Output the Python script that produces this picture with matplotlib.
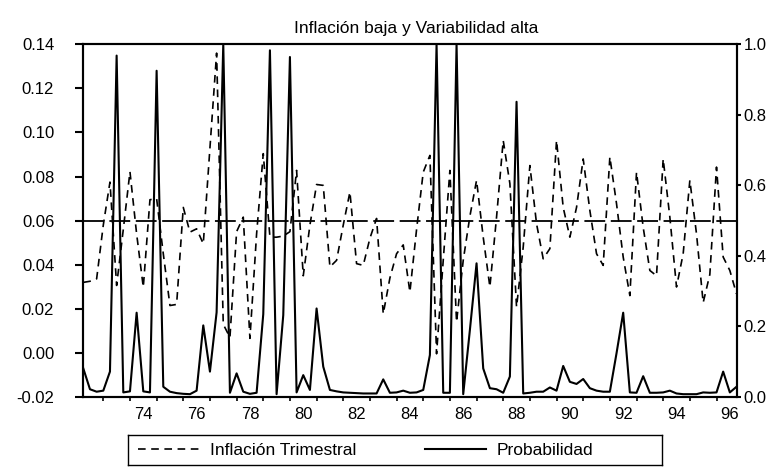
import numpy as np
import pandas as pd
import matplotlib
matplotlib.use("Agg")
import matplotlib.pyplot as plt
from matplotlib.lines import Line2D
from matplotlib.ticker import FormatStrFormatter

plt.rcParams['font.family'] = ['Liberation Sans', 'DejaVu Sans']
plt.rcParams['axes.unicode_minus'] = False
plt.rcParams['lines.scale_dashes'] = False

# quarterly sample 1972Q2 - 1996Q4
trimestres = pd.period_range('1972Q2', periods=99, freq='Q')

inflacion = [
    0.032, 0.0325, 0.0336, 0.058, 0.0775, 0.0306, 0.056, 0.0822, 0.054, 0.0298,
    0.0695, 0.070, 0.045, 0.0215, 0.022, 0.066, 0.0548, 0.0563, 0.0495, 0.093,
    0.136, 0.013, 0.007, 0.055, 0.0616, 0.0066, 0.054, 0.0904, 0.0525, 0.0525,
    0.053, 0.055, 0.0828, 0.035, 0.058, 0.0764, 0.076, 0.039, 0.042, 0.058,
    0.073, 0.0405, 0.0397, 0.052, 0.061, 0.0177, 0.034, 0.045, 0.049, 0.0276,
    0.056, 0.082, 0.0896, -0.0004, 0.042, 0.0828, 0.014, 0.042, 0.062, 0.0783,
    0.0525, 0.0299, 0.0616, 0.0964, 0.0768, 0.0208, 0.048, 0.085, 0.0586, 0.0427,
    0.0473, 0.0964, 0.066, 0.0525, 0.066, 0.088, 0.0646, 0.045, 0.0397, 0.0889,
    0.0677, 0.0435, 0.026, 0.082, 0.057, 0.0374, 0.035, 0.088, 0.0616, 0.0299,
    0.045, 0.0783, 0.054, 0.0228, 0.0356, 0.0843, 0.0435, 0.0374, 0.0268,
]

probabilidad = [
    0.081, 0.022, 0.015, 0.018, 0.072, 0.968, 0.013, 0.016, 0.239, 0.016,
    0.013, 0.925, 0.029, 0.015, 0.011, 0.009, 0.008, 0.018, 0.203, 0.072,
    0.24, 1.0, 0.012, 0.067, 0.015, 0.009, 0.012, 0.235, 0.983, 0.008,
    0.232, 0.964, 0.013, 0.062, 0.02, 0.251, 0.086, 0.02, 0.016, 0.013,
    0.012, 0.011, 0.010, 0.010, 0.010, 0.05, 0.012, 0.013, 0.018, 0.012,
    0.013, 0.02, 0.119, 1.0, 0.012, 0.012, 1.0, 0.008, 0.19, 0.379,
    0.081, 0.025, 0.022, 0.012, 0.058, 0.837, 0.010, 0.012, 0.015, 0.015,
    0.027, 0.018, 0.088, 0.043, 0.037, 0.051, 0.025, 0.018, 0.015, 0.015,
    0.124, 0.239, 0.013, 0.012, 0.059, 0.012, 0.012, 0.013, 0.018, 0.010,
    0.008, 0.008, 0.008, 0.013, 0.012, 0.013, 0.072, 0.013, 0.029,
]

umbral = 0.06
anios_etiqueta = list(range(1974, 1997, 2))
titulo = 'Inflación baja y Variabilidad alta'
nombres = ['Inflación Trimestral', 'Probabilidad']

t = np.asarray(trimestres.year + (trimestres.quarter - 1) / 4, dtype=float)

W, H = 783, 474
fig = plt.figure(figsize=(W / 100, H / 100), dpi=100)
ax = fig.add_axes([83.3 / W, (H - 397) / H, (736.5 - 83.3) / W, (397 - 44.3) / H])
ax2 = ax.twinx()

dash_inf = (5.5, 4.0)
ax.plot(t, inflacion, color='black', lw=1.2, dashes=dash_inf)
ax.axhline(umbral, color='black', lw=1.3, dashes=(15, 4))
ax2.plot(t, probabilidad, color='black', lw=1.5)

ax.set_xlim(t[0], t[-1])
ax.set_ylim(-0.02, 0.14)
ax2.set_ylim(0, 1)

# year ticks at Q1, labels centred in the year
ax.set_xticks(np.arange(1973, 1997))
ax.set_xticklabels([])
ax.set_xticks([a + 0.5 for a in anios_etiqueta], minor=True)
ax.set_xticklabels([f'{a % 100:02d}' for a in anios_etiqueta], minor=True)
ax.tick_params(axis='x', which='major', length=3, width=1.2, direction='out')
ax.tick_params(axis='x', which='minor', length=0, pad=7, labelsize=12)

ax.set_yticks(np.arange(-0.02, 0.1401, 0.02))
ax.yaxis.set_major_formatter(FormatStrFormatter('%.2f'))
ax.tick_params(axis='y', length=6, width=1.5, pad=15, labelsize=12)

ax2.set_yticks(np.arange(0, 1.01, 0.2))
ax2.yaxis.set_major_formatter(FormatStrFormatter('%.1f'))
ax2.tick_params(axis='y', length=3, width=1.5, pad=2, labelsize=12)

for a in (ax, ax2):
    for s in a.spines.values():
        s.set_linewidth(1.5)

ax.set_title(titulo, fontsize=12.5, pad=8, x=0.51)

# legend in its own framed box below the chart
lax = fig.add_axes([128 / W, (H - 465) / H, 534 / W, 30 / H])
lax.set_xticks([])
lax.set_yticks([])
for s in lax.spines.values():
    s.set_linewidth(1.0)
handles = [
    Line2D([], [], color='black', lw=1.2, dashes=dash_inf),
    Line2D([], [], color='black', lw=1.5),
]
lax.legend(handles, nombres, loc='center left', ncol=2, frameon=False,
           handlelength=3.5, handletextpad=0.6, columnspacing=4.0,
           borderaxespad=0.2, fontsize=12.5)

fig.savefig('out.png', dpi=100)
